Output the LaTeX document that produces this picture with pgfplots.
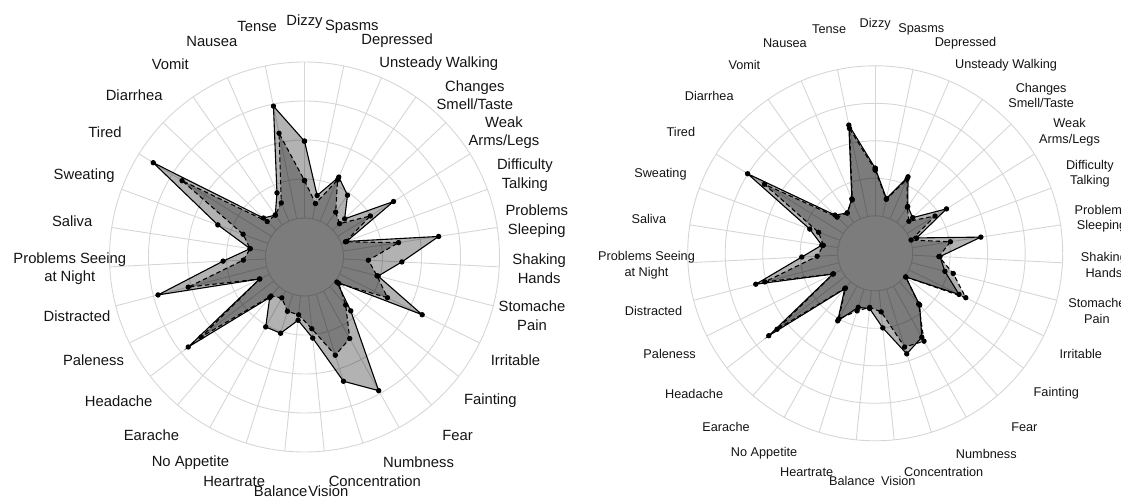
\documentclass[border=0pt]{standalone}
\usepackage{pgfplots}
\pgfplotsset{compat=1.18}
\usepackage{pgfplotstable}
\usepackage{fontspec}
\setmainfont{Liberation Sans}

% i = category index (clockwise from top), a = solid series, b = dashed series
% values in grid units above the inner disk (0 = disk edge, 4 = outer ring)
\pgfplotstableread{
i a b
0 1.97 0.96
1 0.61 0.40
2 1.23 1.15
3 0.93 0.40
4 0.42 0.24
5 1.69 0.99
6 0.15 0.12
7 2.48 1.44
8 1.50 0.64
9 0.95 0.92
10 2.36 1.37
11 0.05 0.11
12 0.82 0.62
13 2.92 1.39
14 2.34 1.64
15 1.09 0.85
16 0.63 0.49
17 1.05 0.46
18 1.05 0.20
19 0.37 0.32
20 2.77 2.35
21 0.28 0.28
22 2.88 2.08
23 1.09 0.57
24 0.41 0.41
25 1.37 0.68
26 3.57 2.70
27 0.45 0.32
28 0.31 0.31
29 0.79 0.51
30 2.95 2.24
31 1.97 0.96
}\leftdata

\pgfplotstableread{
i a b
0 1.27 1.22
1 0.49 0.47
2 1.22 1.15
3 0.52 0.50
4 0.38 0.24
5 1.24 0.88
6 0.18 0.02
7 1.85 1.03
8 0.73 0.70
9 0.92 1.15
10 1.49 1.69
11 0.03 0.03
12 0.82 0.78
13 1.56 1.68
14 1.81 1.62
15 1.00 0.57
16 0.48 0.45
17 0.51 0.61
18 1.06 1.00
19 0.25 0.22
20 2.59 2.31
21 0.26 0.24
22 2.29 2.04
23 0.96 0.55
24 0.44 0.40
25 0.86 0.61
26 3.01 2.48
27 0.48 0.40
28 0.31 0.31
29 0.58 0.55
30 2.49 2.40
31 1.27 1.22
}\rightdata

\definecolor{gridc}{gray}{0.84}

\newcommand{\radargrid}[1]{%
  \foreach \k in {1,...,5} {\draw[gridc, line width=0.9pt] (0,0) circle[radius=\k*#1];}
  \foreach \j in {0,...,30} {\draw[gridc, line width=0.9pt] ({90-\j*360/31}:#1) -- ({90-\j*360/31}:5*#1);}
}
\newcommand{\radarlabels}[1]{%
  \foreach \lab [count=\j from 0] in {Dizzy, Spasms, Depressed, Unsteady Walking, Changes\\Smell/Taste, Weak\\Arms/Legs, Difficulty\\Talking, Problems\\Sleeping, Shaking\\Hands, Stomache\\Pain, Irritable, Fainting, Fear, Numbness, Concentration, Vision, Balance, Heartrate, No Appetite, Earache, Headache, Paleness, Distracted, Problems Seeing\\at Night, Saliva, Sweating, Tired, Diarrhea, Vomit, Nausea, Tense} {
    \node[align=center, inner sep=0pt, text=black!92] at ({90-\j*360/31}:#1) {\lab};
  }
}
\pgfplotsset{
  radar/.style={anchor=origin, xmin=-6, xmax=6, ymin=-6, ymax=6, hide axis, clip=false},
  sa/.style={black, line width=1.1pt, fill=black, fill opacity=0.3, mark=*, mark size=2.1pt, mark options={solid, fill=black, fill opacity=1}},
  sb/.style={black, line width=1.1pt, dash pattern=on 4.5pt off 3pt, fill=black, fill opacity=0.3, mark=*, mark size=2.1pt, mark options={solid, fill=black, fill opacity=1}},
}

\begin{document}
\begin{tikzpicture}
\useasboundingbox (0,0) rectangle (1121pt,499pt);
% left radar
\begin{scope}[shift={(304.5pt,242pt)}]
  \radargrid{39pt}
  \fontsize{14.8}{18.5}\selectfont
  \radarlabels{235pt}
\end{scope}
\begin{axis}[radar, at={(304.5pt,242pt)}, x=39pt, y=39pt]
  \addplot[sa] table[x expr={(\thisrow{a}+1)*sin(\thisrow{i}*360/31)}, y expr={(\thisrow{a}+1)*cos(\thisrow{i}*360/31)}] {\leftdata};
  \addplot[sb] table[x expr={(\thisrow{b}+1)*sin(\thisrow{i}*360/31)}, y expr={(\thisrow{b}+1)*cos(\thisrow{i}*360/31)}] {\leftdata};
\end{axis}
% right radar
\begin{scope}[shift={(875.2pt,245.7pt)}]
  \radargrid{37.5pt}
  \fontsize{12.7}{15.7}\selectfont
  \radarlabels{229pt}
\end{scope}
\begin{axis}[radar, at={(875.2pt,245.7pt)}, x=37.5pt, y=37.5pt]
  \addplot[sa] table[x expr={(\thisrow{a}+1)*sin(\thisrow{i}*360/31)}, y expr={(\thisrow{a}+1)*cos(\thisrow{i}*360/31)}] {\rightdata};
  \addplot[sb] table[x expr={(\thisrow{b}+1)*sin(\thisrow{i}*360/31)}, y expr={(\thisrow{b}+1)*cos(\thisrow{i}*360/31)}] {\rightdata};
\end{axis}
\end{tikzpicture}
\end{document}
